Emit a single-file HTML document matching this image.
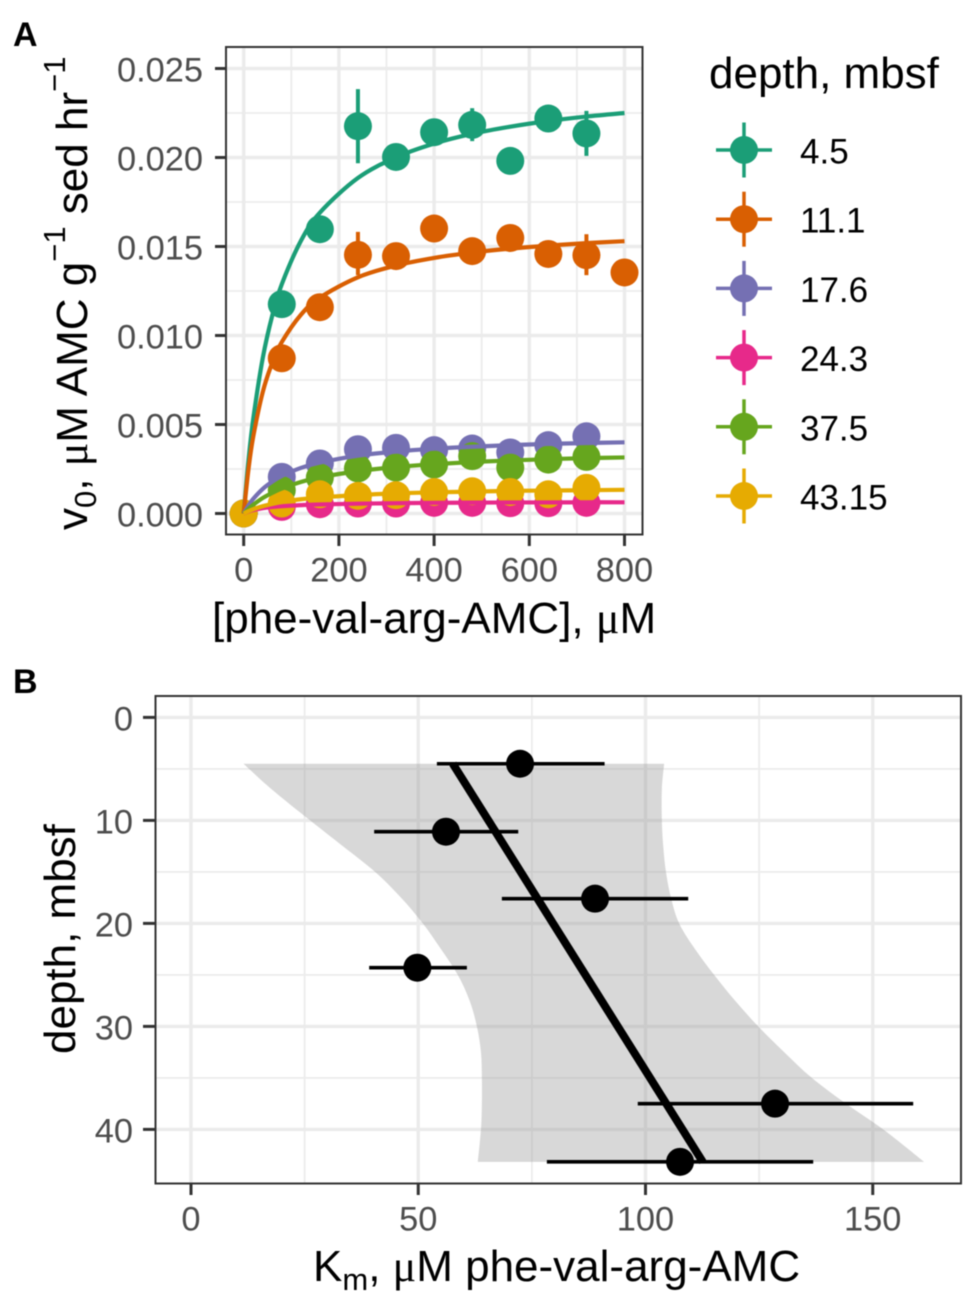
<!DOCTYPE html>
<html lang="en">
<head>
<meta charset="utf-8">
<title>Kinetics chart</title>
<style>
html,body{margin:0;padding:0;background:#fff;}
svg{display:block;filter:blur(0.4px);}
text{font-family:"Liberation Sans",sans-serif;}
.tick{font-size:34.4px;fill:#4d4d4d;}
.title{font-size:44px;fill:#000;}
.legend-label{font-size:35px;fill:#000;}
.tag{font-size:34px;font-weight:bold;fill:#000;}
.mu{font-family:"Liberation Serif",serif;}
</style>
</head>
<body>
<svg id="fig" xmlns="http://www.w3.org/2000/svg" width="971" height="1296" viewBox="0 0 971 1296">
  <defs>
    <clipPath id="clipA"><rect x="226" y="47" width="416.5" height="487.5"/></clipPath>
    <clipPath id="clipB"><rect x="155.5" y="696" width="805.5" height="487.5"/></clipPath>
  </defs>
  <text class="tag" x="13" y="46">A</text>
  <text class="tag" x="13" y="693">B</text>
  <g id="panelA"></g>
  <g id="legend"></g>
  <g id="panelB"></g>
  <text class="title" x="212" y="633">[phe-val-arg-AMC], <tspan class="mu">μ</tspan>M</text>
  <text class="title" transform="translate(87,530) rotate(-90)">v<tspan font-size="31" dy="9">0</tspan><tspan dy="-9">, </tspan><tspan class="mu">μ</tspan>M AMC g<tspan font-size="31" dy="-22">−1</tspan><tspan dy="22"> sed hr</tspan><tspan font-size="31" dy="-22">−1</tspan></text>
  <text class="title" x="709" y="88">depth, mbsf</text>
  <text class="title" x="313" y="1281">K<tspan font-size="31" dy="9">m</tspan><tspan dy="-9">, </tspan><tspan class="mu">μ</tspan>M phe-val-arg-AMC</text>
  <text class="title" transform="translate(75,1054) rotate(-90)">depth, mbsf</text>
</svg>
<script>
// ---------- Panel A data ----------
const depthLabels = ['4.5', '11.1', '17.6', '24.3', '37.5', '43.15'];
const seriesColors = ['#1b9e77', '#d95f02', '#7570b3', '#e7298a', '#66a61e', '#e6ab02'];
const substrate = [0, 80, 160, 240, 320, 400, 480, 560, 640, 720, 800];
const rate45 = [0, 0.01176, 0.01597, 0.02176, 0.02003, 0.02142, 0.02183, 0.01981, 0.02219, 0.02135, null];
const rate111 = [0, 0.00872, 0.01159, 0.01453, 0.01446, 0.01601, 0.01474, 0.01548, 0.01458, 0.01451, 0.01354];
const rate176 = [0, 0.00206, 0.00281, 0.00361, 0.00369, 0.00356, 0.00365, 0.00343, 0.00384, 0.00434, null];
const rate243 = [0, 0.00037, 0.00052, 0.00056, 0.00056, 0.00060, 0.00060, 0.00058, 0.00058, 0.00060, null];
const rate375 = [0, 0.00131, 0.00202, 0.00253, 0.00258, 0.00275, 0.00322, 0.00258, 0.00303, 0.00318, null];
const rate4315 = [0, 0.00056, 0.00108, 0.00099, 0.00103, 0.00121, 0.00125, 0.00121, 0.00108, 0.00144, null];
const errLow45 = [null, null, null, 0.01968, null, null, 0.02092, null, null, 0.02009, null];
const errHigh45 = [null, null, null, 0.02384, null, null, 0.02277, null, null, 0.02262, null];
const errLow111 = [null, null, null, 0.01339, null, null, null, null, null, 0.01339, null];
const errHigh111 = [null, null, null, 0.01582, null, null, null, null, null, 0.01569, null];
const fitSubstrate = [0, 10, 20, 40, 60, 80, 120, 160, 240, 320, 400, 480, 560, 640, 720, 800];
const fit45 = [0, 0.00298, 0.00531, 0.00873, 0.01112, 0.01288, 0.01531, 0.01690, 0.01885, 0.02001, 0.02078, 0.02133, 0.02173, 0.02205, 0.02230, 0.02250];
const fit111 = [0, 0.00248, 0.00431, 0.00682, 0.00847, 0.00963, 0.01116, 0.01213, 0.01327, 0.01393, 0.01436, 0.01466, 0.01488, 0.01505, 0.01519, 0.01530];
const fit176 = [0, 0.00045, 0.00082, 0.00138, 0.00179, 0.00211, 0.00256, 0.00286, 0.00325, 0.00348, 0.00364, 0.00375, 0.00384, 0.00391, 0.00396, 0.00400];
const fit243 = [0, 0.00011, 0.00019, 0.00030, 0.00037, 0.00041, 0.00047, 0.00051, 0.00055, 0.00058, 0.00060, 0.00061, 0.00062, 0.00062, 0.00063, 0.00063];
const fit375 = [0, 0.00026, 0.00049, 0.00087, 0.00116, 0.00140, 0.00177, 0.00203, 0.00238, 0.00261, 0.00277, 0.00289, 0.00298, 0.00305, 0.00311, 0.00315];
const fit4315 = [0, 0.00013, 0.00024, 0.00041, 0.00054, 0.00064, 0.00080, 0.00090, 0.00104, 0.00113, 0.00119, 0.00123, 0.00127, 0.00129, 0.00131, 0.00133];
const xTicksA = ['0', '200', '400', '600', '800'];
const xMinorA = [100, 300, 500, 700];
const yTicksA = ['0.000', '0.005', '0.010', '0.015', '0.020', '0.025'];
const yMinorA = [0.0025, 0.0075, 0.0125, 0.0175, 0.0225];

// ---------- Panel B data ----------
const depths = [4.5, 11.1, 17.6, 24.3, 37.5, 43.15];
const kmValues = [72.4, 56.1, 88.9, 49.8, 128.5, 107.6];
const kmLow = [54.1, 40.3, 68.4, 39.2, 98.3, 78.3];
const kmHigh = [91, 72, 109.4, 60.7, 158.9, 136.9];
const trendDepth = [4.5, 43.15];
const trendKm = [57.6, 112.6];
const ribbonDepth = [4.5, 7, 10, 12.5, 15, 17.5, 20, 22.5, 25, 27.5, 30, 32.5, 35, 37.5, 40, 43.15];
const ribbonLow = [11.55, 17.8, 26.2, 33.4, 40.5, 46.2, 51, 55, 58.7, 61.3, 62.9, 63.8, 64, 64, 63.8, 63.1];
const ribbonHigh = [104.1, 103.6, 103.6, 103.9, 104.5, 105.6, 107.4, 110.9, 115.1, 119.7, 124.8, 130.5, 136.6, 144.1, 152.3, 161.3];
const xTicksB = ['0', '50', '100', '150'];
const xMinorB = [25, 75, 125];
const yTicksB = ['0', '10', '20', '30', '40'];
const yMinorB = [5, 15, 25, 35];

// ---------- Axis functions ----------
const xA = v => 243.7 + 0.476 * v;
const yA = v => 513.5 - 17800 * v;
const xB = v => 191 + 4.545 * v;
const yB = v => 717.4 + 10.3 * v;

const NS = 'http://www.w3.org/2000/svg';
function make(parent, tag, attrs, txt) {
  const el = document.createElementNS(NS, tag);
  for (const k in attrs) el.setAttribute(k, attrs[k]);
  if (txt !== undefined) el.textContent = txt;
  parent.appendChild(el);
  return el;
}
function group(parent, clip) {
  const attrs = clip ? {'clip-path': 'url(#' + clip + ')'} : {};
  return make(parent, 'g', attrs);
}
// Smooth path segments (Catmull-Rom) through a list of [x, y] pairs.
function smoothSegments(pts) {
  let d = '';
  for (let i = 0; i < pts.length - 1; i++) {
    const p0 = pts[Math.max(i - 1, 0)], p1 = pts[i], p2 = pts[i + 1], p3 = pts[Math.min(i + 2, pts.length - 1)];
    const c1x = p1[0] + (p2[0] - p0[0]) / 6, c1y = p1[1] + (p2[1] - p0[1]) / 6;
    const c2x = p2[0] - (p3[0] - p1[0]) / 6, c2y = p2[1] - (p3[1] - p1[1]) / 6;
    d += ' C' + c1x.toFixed(2) + ' ' + c1y.toFixed(2) + ' ' + c2x.toFixed(2) + ' ' + c2y.toFixed(2) + ' ' + p2[0].toFixed(2) + ' ' + p2[1].toFixed(2);
  }
  return d;
}

const ratesAll = [rate45, rate111, rate176, rate243, rate375, rate4315];
const fitsAll = [fit45, fit111, fit176, fit243, fit375, fit4315];
const errLowAll = [errLow45, errLow111, null, null, null, null];
const errHighAll = [errHigh45, errHigh111, null, null, null, null];

// ---------- Panel A ----------
const pA = document.getElementById('panelA');
const bgA = make(pA, 'rect', {x: 226, y: 47, width: 416.5, height: 487.5, fill: '#fff'});



const gridA = group(pA, 'clipA');


xMinorA.forEach(v => {
  const l = make(gridA, 'line', {x1: xA(v), x2: xA(v), y1: 47, y2: 535, stroke: '#ececec', 'stroke-width': 1.8});
  
  
});
yMinorA.forEach(v => {
  const l = make(gridA, 'line', {x1: 226, x2: 643, y1: yA(v), y2: yA(v), stroke: '#ececec', 'stroke-width': 1.8});
  
  
});
xTicksA.forEach(t => {
  const l = make(gridA, 'line', {x1: xA(+t), x2: xA(+t), y1: 47, y2: 535, stroke: '#ebebeb', 'stroke-width': 3.4});
  
  
});
yTicksA.forEach(t => {
  const l = make(gridA, 'line', {x1: 226, x2: 643, y1: yA(+t), y2: yA(+t), stroke: '#ebebeb', 'stroke-width': 3.4});
  
  
});

ratesAll.forEach((rates, s) => {
  const g = group(pA);
  
  
  rates.forEach((v, i) => {
    if (v === null) return;
    if (errLowAll[s] && errLowAll[s][i] !== null) {
      const e = make(g, 'line', {x1: xA(substrate[i]), x2: xA(substrate[i]), y1: yA(errLowAll[s][i]), y2: yA(errHighAll[s][i]), stroke: seriesColors[s], 'stroke-width': 4});
      
      
    }
    const c = make(g, 'circle', {cx: xA(substrate[i]), cy: yA(v), r: 14, fill: seriesColors[s]});
    
    
  });
});
fitsAll.forEach((fit, s) => {
  const pts = fit.map((v, i) => [xA(fitSubstrate[i]), yA(v)]);
  const d = 'M' + pts[0][0].toFixed(2) + ' ' + pts[0][1].toFixed(2) + smoothSegments(pts);
  const l = make(pA, 'path', {d: d, fill: 'none', stroke: seriesColors[s], 'stroke-width': 4.2, 'stroke-linejoin': 'round'});
  
  
});

const borderA = make(pA, 'rect', {x: 226, y: 47, width: 416.5, height: 487.5, fill: 'none', stroke: '#333', 'stroke-width': 2});


xTicksA.forEach(t => {
  const m = make(pA, 'line', {x1: xA(+t), x2: xA(+t), y1: 535, y2: 546, stroke: '#333', 'stroke-width': 3});
  
  
  const lb = make(pA, 'text', {class: 'tick', x: xA(+t), y: 581.5, 'text-anchor': 'middle'}, t);
  
  
});
yTicksA.forEach(t => {
  const m = make(pA, 'line', {x1: 215, x2: 226, y1: yA(+t), y2: yA(+t), stroke: '#333', 'stroke-width': 3});
  
  
  const lb = make(pA, 'text', {class: 'tick', x: 203, y: yA(+t) + 13, 'text-anchor': 'end'}, t);
  
  
});

// ---------- Legend ----------
const lg = document.getElementById('legend');
depthLabels.forEach((d, i) => {
  const cy = 150 + i * 69.2;
  const g = make(lg, 'g', {});
  
  
  make(g, 'line', {x1: 716, x2: 772, y1: cy, y2: cy, stroke: seriesColors[i], 'stroke-width': 3.5});
  make(g, 'line', {x1: 744, x2: 744, y1: cy - 27.5, y2: cy + 27.5, stroke: seriesColors[i], 'stroke-width': 3.5});
  make(g, 'circle', {cx: 744, cy: cy, r: 14, fill: seriesColors[i]});
  make(g, 'text', {class: 'legend-label', x: 800, y: cy + 13.5}, d);
});

// ---------- Panel B ----------
const pB = document.getElementById('panelB');
const gridB = group(pB, 'clipB');


xMinorB.forEach(v => {
  const l = make(gridB, 'line', {x1: xB(v), x2: xB(v), y1: 696, y2: 1184, stroke: '#ececec', 'stroke-width': 1.8});
  
  
});
yMinorB.forEach(v => {
  const l = make(gridB, 'line', {x1: 155, x2: 961, y1: yB(v), y2: yB(v), stroke: '#ececec', 'stroke-width': 1.8});
  
  
});
xTicksB.forEach(t => {
  const l = make(gridB, 'line', {x1: xB(+t), x2: xB(+t), y1: 696, y2: 1184, stroke: '#ebebeb', 'stroke-width': 3.4});
  
  
});
yTicksB.forEach(t => {
  const l = make(gridB, 'line', {x1: 155, x2: 961, y1: yB(+t), y2: yB(+t), stroke: '#ebebeb', 'stroke-width': 3.4});
  
  
});

const upperPts = ribbonDepth.map((d, i) => [xB(ribbonHigh[i]), yB(d)]);
const lowerPts = ribbonDepth.map((d, i) => [xB(ribbonLow[i]), yB(d)]).reverse();
const ribbonPath = 'M' + upperPts[0][0].toFixed(2) + ' ' + upperPts[0][1].toFixed(2) + smoothSegments(upperPts) +
  ' L' + lowerPts[0][0].toFixed(2) + ' ' + lowerPts[0][1].toFixed(2) + smoothSegments(lowerPts) + ' Z';
const ribbon = make(pB, 'path', {d: ribbonPath, fill: '#999', 'fill-opacity': 0.38});



const trend = make(pB, 'line', {x1: xB(trendKm[0]), y1: yB(trendDepth[0]), x2: xB(trendKm[1]), y2: yB(trendDepth[1]), stroke: '#000', 'stroke-width': 8});



depths.forEach((d, i) => {
  const e = make(pB, 'line', {x1: xB(kmLow[i]), x2: xB(kmHigh[i]), y1: yB(d), y2: yB(d), stroke: '#000', 'stroke-width': 3.6});
  
  
  const c = make(pB, 'circle', {cx: xB(kmValues[i]), cy: yB(d), r: 14, fill: '#000'});
  
  
});

const borderB = make(pB, 'rect', {x: 155.5, y: 696, width: 805.5, height: 487.5, fill: 'none', stroke: '#333', 'stroke-width': 2});


xTicksB.forEach(t => {
  const m = make(pB, 'line', {x1: xB(+t), x2: xB(+t), y1: 1184, y2: 1195, stroke: '#333', 'stroke-width': 3});
  
  
  const lb = make(pB, 'text', {class: 'tick', x: xB(+t), y: 1230.5, 'text-anchor': 'middle'}, t);
  
  
});
yTicksB.forEach(t => {
  const m = make(pB, 'line', {x1: 143, x2: 155, y1: yB(+t), y2: yB(+t), stroke: '#333', 'stroke-width': 3});
  
  
  const lb = make(pB, 'text', {class: 'tick', x: 133, y: yB(+t) + 13, 'text-anchor': 'end'}, t);
  
  
});
</script>
</body>
</html>
